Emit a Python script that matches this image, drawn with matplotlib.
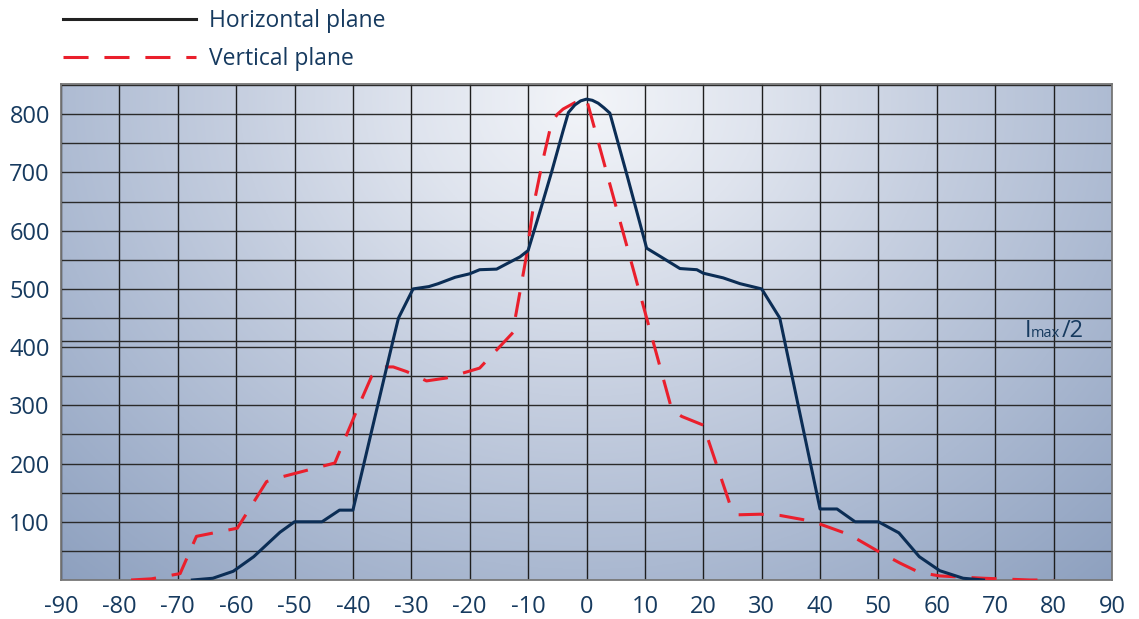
import numpy as np
import matplotlib.pyplot as plt
from matplotlib.lines import Line2D
from matplotlib.colors import to_rgb

plt.rcParams['font.family'] = ['Open Sans', 'DejaVu Sans']
plt.rcParams['axes.unicode_minus'] = False

# horizontal plane (deg, cd/klm)
h_ang = [-67.5, -64, -60.5, -57, -52.5, -50, -45.3, -42.3, -40, -33.1, -32.2, -29.7, -27, -25.4,
         -22.5, -20, -18.3, -15.4, -13.7, -11.4, -10, -8, -6, -4, -3.1, -2, -1, 0, 1, 2, 3, 4,
         7, 10.3, 12.6, 16, 18.9, 20, 23.4, 26.3, 30, 33.1, 40, 42.9, 46, 50, 53.5, 57, 60.5, 64.5, 68]
h_val = [0, 3, 15, 40, 82, 100, 100, 120, 120, 413, 450, 500, 504, 509,
         520, 526, 533, 534, 543, 555, 566, 632, 700, 772, 803, 816, 823, 826, 824, 819, 811, 802,
         693, 570, 556, 535, 533, 527, 519, 509, 500, 450, 122, 122, 100, 100, 81, 40, 16, 3, 0]

# vertical plane
v_ang = [-78, -74.5, -69.6, -66.8, -59.8, -54.8, -53, -43.1, -41.7, -38.8, -36.8, -34.8, -33.1,
         -30.8, -27.4, -24, -18.3, -12.6, -12.2, -10.3, -9.1, -7.5, -6, -5, -4, -2, 0,
         14.6, 16.3, 20, 24.8, 26, 29.7, 33.1, 38, 40, 45, 50, 53.7, 57, 60.5, 68, 76, 80]
v_val = [0, 2, 11, 75, 89, 169, 175, 201, 235, 304, 350, 366, 366,
         358, 342, 347, 364, 425, 450, 556, 642, 720, 785, 800, 809, 820, 826,
         293, 281, 266, 123, 112, 113, 111, 102, 96, 78, 49, 29, 13, 7, 3, 0, 0]

i_half = 411
xticks = list(range(-90, 91, 10))
yticks = list(range(100, 801, 100))

txt_col = '#163a5f'
navy = '#0b2d55'
red = '#ea1f2c'

fig = plt.figure(figsize=(11.39, 6.19), dpi=100)
ax = fig.add_axes([61/1139, 39/619, (1112-61)/1139, (580-84)/619])
ax.set_xlim(-90, 90)
ax.set_ylim(0, 852)

# radial background, light spot near top centre
gx, gy = np.meshgrid(np.linspace(0, 1, 400), np.linspace(0, 1, 250))
d = np.sqrt(((gx - 0.5)/0.55)**2 + ((gy - 0.97)/1.0)**2)
stops = [0, 0.3, 0.6, 0.95, 1.35]
cols = [to_rgb(c) for c in ['#f3f5f9', '#dfe4ee', '#c6cfe0', '#abb9d1', '#8c9fbe']]
img = np.dstack([np.interp(d, stops, [c[i] for c in cols]) for i in range(3)])
ax.imshow(img, extent=[-90, 90, 0, 852], origin='lower', aspect='auto', zorder=0)

for x in xticks:
    ax.axvline(x, color='#1e1e1e', lw=1.0, zorder=1)
for y in range(50, 851, 50):
    ax.axhline(y, color='#2a2a2a', lw=1.0, zorder=1)
ax.axhline(i_half, color='#2a2a2a', lw=1.0, zorder=1)

ax.plot(v_ang, v_val, color=red, lw=2.2, dashes=(8.2, 5.2), zorder=3)
ax.plot(h_ang, h_val, color=navy, lw=2.2, zorder=4)

ax.set_xticks(xticks)
ax.set_yticks(yticks)
ax.tick_params(length=0, labelsize=17, labelcolor=txt_col)
ax.tick_params(axis='x', pad=11)
ax.tick_params(axis='y', pad=8)
for s in ax.spines.values():
    s.set_color('#777777')
    s.set_linewidth(1.3)

# Imax/2 label
yb = 1 - 337/619
fig.text(1025/1139, yb, 'I', fontsize=17, color=txt_col, va='baseline')
fig.text(1031/1139, yb, 'max', fontsize=10.5, color=txt_col, va='baseline')
fig.text(1062/1139, yb, '/2', fontsize=17, color=txt_col, va='baseline')

handles = [Line2D([], [], color='#222222', lw=2.2),
           Line2D([], [], color=red, lw=2.2, dashes=(8.2, 5.2))]
fig.legend(handles, ['Horizontal plane', 'Vertical plane'], loc='upper left',
           bbox_to_anchor=(63/1139, 1 - 9/619), frameon=False, fontsize=16.5,
           handlelength=5.8, handletextpad=0.55, labelspacing=0.6,
           borderpad=0, borderaxespad=0, labelcolor=txt_col)

fig.savefig('out.png', dpi=100)
